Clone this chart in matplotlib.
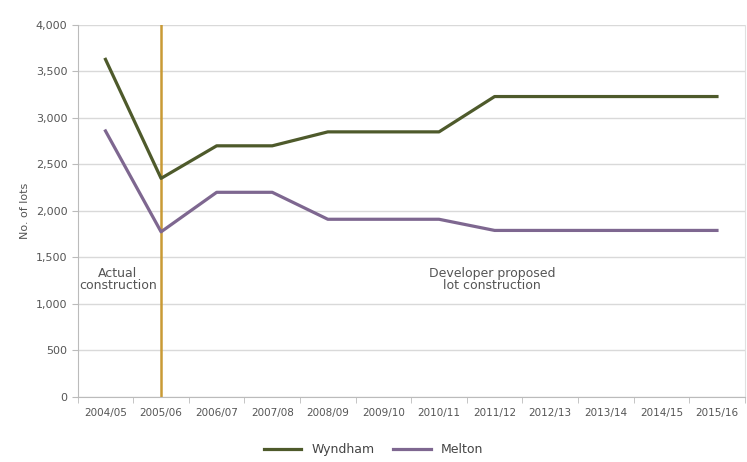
import matplotlib
matplotlib.use("Agg")
import matplotlib.pyplot as plt
from matplotlib.ticker import FuncFormatter, FixedLocator

years = ["2004/05", "2005/06", "2006/07", "2007/08", "2008/09", "2009/10",
         "2010/11", "2011/12", "2012/13", "2013/14", "2014/15", "2015/16"]
wyndham = [3630, 2350, 2700, 2700, 2850, 2850, 2850, 3230, 3230, 3230, 3230, 3230]
melton = [2860, 1775, 2200, 2200, 1910, 1910, 1910, 1790, 1790, 1790, 1790, 1790]
split_year = "2005/06"

plt.rcParams['font.family'] = ['Liberation Sans Narrow', 'DejaVu Sans']

fig = plt.figure(figsize=(7.47, 4.62), dpi=100)
ax = fig.add_axes([0.104, 0.141, 0.893, 0.805])

x = list(range(len(years)))
ax.plot(x, wyndham, color='#4e5a2b', linewidth=2.3, label='Wyndham', zorder=3)
ax.plot(x, melton, color='#7e6790', linewidth=2.3, label='Melton', zorder=3)

xs = years.index(split_year)
ax.plot([xs, xs], [0, 4000], color='#c99a35', linewidth=1.8, zorder=2)

ax.text(0.22, 1260, "Actual\nconstruction", ha='center', va='center',
        fontsize=9, color='#555555', linespacing=0.95)
ax.text(6.95, 1260, "Developer proposed\nlot construction", ha='center', va='center',
        fontsize=9, color='#555555', linespacing=0.95)

ax.set_xlim(-0.5, len(years) - 0.5)
ax.set_ylim(0, 4000)
ax.set_yticks(range(0, 4001, 500))
ax.yaxis.set_major_formatter(FuncFormatter(lambda v, p: f"{int(v):,}"))
ax.set_xticks(x)
ax.set_xticklabels(years)
ax.xaxis.set_minor_locator(FixedLocator([i - 0.5 for i in range(len(years) + 1)]))
ax.tick_params(axis='x', which='major', length=0, pad=8, labelsize=7.5, colors='#555555')
ax.tick_params(axis='x', which='minor', length=4, color='#bbbbbb')
ax.tick_params(axis='y', length=4, color='#bbbbbb', labelsize=8, colors='#555555')

ax.grid(axis='y', color='#d9d9d9', linewidth=1)
ax.set_axisbelow(True)
for side in ['left', 'bottom']:
    ax.spines[side].set_color('#bbbbbb')
ax.spines['right'].set_color('#e0e0e0')
ax.spines['top'].set_visible(False)

ax.set_ylabel("No. of lots", fontsize=8, color='#555555', labelpad=4)

fig.legend(loc='lower center', bbox_to_anchor=(0.5, -0.012), ncol=2, frameon=False,
           fontsize=9, handlelength=3, columnspacing=1.5, labelcolor='#444444')

fig.savefig("out.png", dpi=100, facecolor='white')
